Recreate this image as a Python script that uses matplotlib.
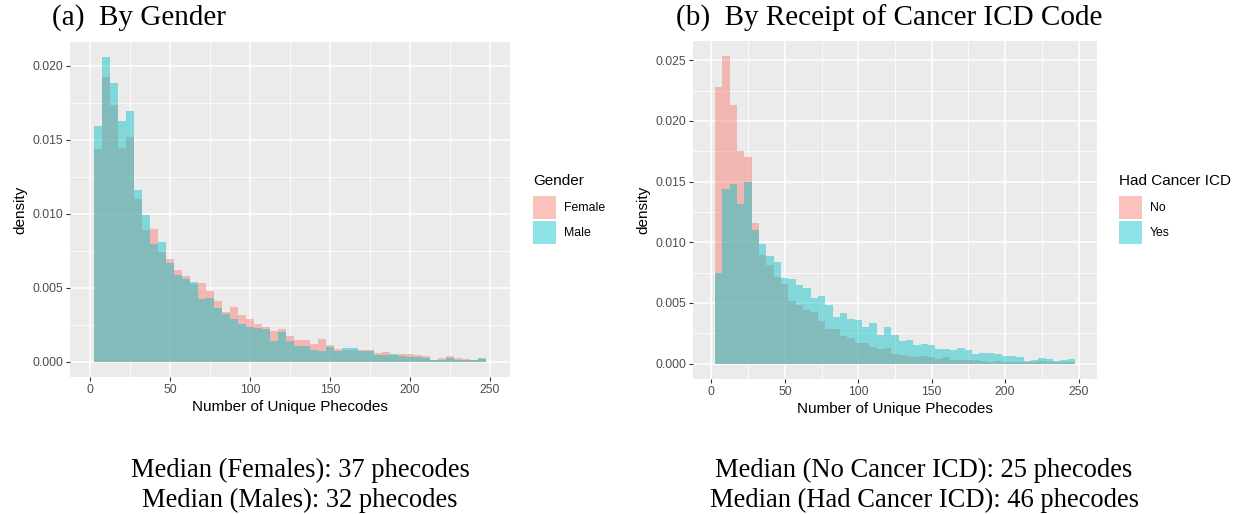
import numpy as np
import matplotlib
matplotlib.use('Agg')
import matplotlib.pyplot as plt
from matplotlib.patches import Patch

plt.rcParams['font.family'] = ['Liberation Sans', 'DejaVu Sans']

# histogram bins (binwidth 5)
bin_edges = np.arange(2.5, 250, 5)

# densities, one per bin
female = [0.01439, 0.01921, 0.01732, 0.01443, 0.01515, 0.01098, 0.00891, 0.00897, 0.00744, 0.00694,
          0.00622, 0.00577, 0.00525, 0.00530, 0.00480, 0.00410, 0.00335, 0.00368, 0.00316, 0.00286,
          0.00253, 0.00237, 0.00207, 0.00221, 0.00174, 0.00149, 0.00144, 0.00122, 0.00151, 0.00113,
          0.00088, 0.00081, 0.00079, 0.00079, 0.00081, 0.00056, 0.00068, 0.00045, 0.00052, 0.00052,
          0.00045, 0.00040, 0.00011, 0.00027, 0.00036, 0.00023, 0.00016, 0.00011, 0.00018]
male = [0.01594, 0.02059, 0.01883, 0.01628, 0.01693, 0.01159, 0.00988, 0.00798, 0.00812, 0.00670,
        0.00586, 0.00559, 0.00539, 0.00426, 0.00431, 0.00365, 0.00320, 0.00286, 0.00255, 0.00237,
        0.00225, 0.00221, 0.00142, 0.00200, 0.00140, 0.00108, 0.00106, 0.00081, 0.00072, 0.00101,
        0.00072, 0.00090, 0.00090, 0.00074, 0.00072, 0.00045, 0.00045, 0.00052, 0.00038, 0.00029,
        0.00034, 0.00027, 0.00011, 0.00014, 0.00023, 0.00014, 0.00009, 0.00014, 0.00023]
no_cancer = [0.02280, 0.02532, 0.02128, 0.01749, 0.01703, 0.01156, 0.00892, 0.00816, 0.00714, 0.00654,
             0.00516, 0.00486, 0.00445, 0.00423, 0.00351, 0.00288, 0.00288, 0.00228, 0.00214, 0.00168,
             0.00173, 0.00135, 0.00118, 0.00129, 0.00080, 0.00074, 0.00063, 0.00058, 0.00066, 0.00058,
             0.00038, 0.00052, 0.00033, 0.00030, 0.00027, 0.00027, 0.00022, 0.00016, 0.00022, 0.00016,
             0.00016, 0.00016, 0.00016, 0.00016, 0.00020, 0.00014, 0.00014, 0.00014, 0.00014]
had_cancer = [0.00747, 0.01436, 0.01477, 0.01313, 0.01494, 0.01098, 0.00983, 0.00884, 0.00835, 0.00708,
              0.00700, 0.00651, 0.00621, 0.00538, 0.00560, 0.00486, 0.00384, 0.00420, 0.00368, 0.00360,
              0.00302, 0.00332, 0.00239, 0.00302, 0.00236, 0.00184, 0.00195, 0.00154, 0.00162, 0.00157,
              0.00124, 0.00118, 0.00115, 0.00129, 0.00115, 0.00077, 0.00091, 0.00085, 0.00077, 0.00066,
              0.00060, 0.00052, 0.00025, 0.00033, 0.00044, 0.00036, 0.00022, 0.00027, 0.00036]

x_ticks = [0, 50, 100, 150, 200, 250]
left_yticks = [0.000, 0.005, 0.010, 0.015, 0.020]
right_yticks = [0.000, 0.005, 0.010, 0.015, 0.020, 0.025]

RED = '#F8766D'
CYAN = '#00BFC4'
ALPHA = 0.45
W, H = 1247, 514


def style_axes(ax, yticks):
    ax.set_facecolor('#EBEBEB')
    for s in ax.spines.values():
        s.set_visible(False)
    ax.set_xticks(x_ticks)
    ax.set_xticks([25, 75, 125, 175, 225], minor=True)
    ax.set_yticks(yticks)
    step = yticks[1] - yticks[0]
    ax.set_yticks([t + step / 2 for t in yticks[:-1]] + [yticks[-1] + step / 2], minor=True)
    ax.set_yticklabels(['%.3f' % t for t in yticks])
    ax.grid(which='major', color='white', lw=1.1)
    ax.grid(which='minor', color='white', lw=0.55)
    ax.set_axisbelow(True)
    ax.tick_params(which='major', length=2.75, width=0.8, color='#333333',
                   labelcolor='#4D4D4D', labelsize=8.8, pad=2)
    ax.tick_params(which='minor', length=0)
    ax.set_xlim(-12.5, 262.5)
    ax.set_xlabel('Number of Unique Phecodes', fontsize=11, labelpad=3)
    ax.set_ylabel('density', fontsize=11, labelpad=4)


fig = plt.figure(figsize=(W / 100, H / 100), dpi=100)

# (a) by gender
ax1 = fig.add_axes([70 / W, 1 - 377 / H, 440 / W, 335 / H])
ax1.stairs(female, bin_edges, fill=True, color=RED, alpha=ALPHA, lw=0)
ax1.stairs(male, bin_edges, fill=True, color=CYAN, alpha=ALPHA, lw=0)
style_axes(ax1, left_yticks)
ax1.set_ylim(-0.00103, 0.0216)

# (b) by cancer ICD code
ax2 = fig.add_axes([693 / W, 1 - 379 / H, 404 / W, 338 / H])
ax2.stairs(no_cancer, bin_edges, fill=True, color=RED, alpha=ALPHA, lw=0)
ax2.stairs(had_cancer, bin_edges, fill=True, color=CYAN, alpha=ALPHA, lw=0)
style_axes(ax2, right_yticks)
ax2.set_ylim(-0.001266, 0.026586)

legend_kw = dict(loc='upper left', frameon=False, fontsize=8.8, title_fontsize=11,
                 handlelength=1.85, handleheight=2.5, labelspacing=0.15,
                 handletextpad=0.7, borderpad=0, borderaxespad=0, alignment='left')
for anchor_x, labels, title in [(533, ['Female', 'Male'], 'Gender'),
                                (1119, ['No', 'Yes'], 'Had Cancer ICD')]:
    leg = fig.legend(handles=[Patch(facecolor=RED, alpha=ALPHA, lw=0),
                              Patch(facecolor=CYAN, alpha=ALPHA, lw=0)],
                     labels=labels, title=title,
                     bbox_to_anchor=(anchor_x / W, 1 - 174 / H), **legend_kw)
    leg._legend_box.sep = 6

serif = ['Liberation Serif', 'DejaVu Serif']
fig.text(52 / W, 1 - 18 / H, '(a)  By Gender', family=serif, fontsize=21, va='center', ha='left')
fig.text(676 / W, 1 - 18 / H, '(b)  By Receipt of Cancer ICD Code', family=serif, fontsize=21,
         va='center', ha='left')

cap = dict(family=serif, fontsize=19.1, ha='center', va='center')
fig.text(300 / W, 1 - 470 / H, 'Median (Females): 37 phecodes', **cap)
fig.text(300 / W, 1 - 500 / H, 'Median (Males): 32 phecodes', **cap)
fig.text(924 / W, 1 - 470 / H, 'Median (No Cancer ICD): 25 phecodes', **cap)
fig.text(924 / W, 1 - 500 / H, 'Median (Had Cancer ICD): 46 phecodes', **cap)

fig.savefig('out.png', dpi=100, facecolor='white')
